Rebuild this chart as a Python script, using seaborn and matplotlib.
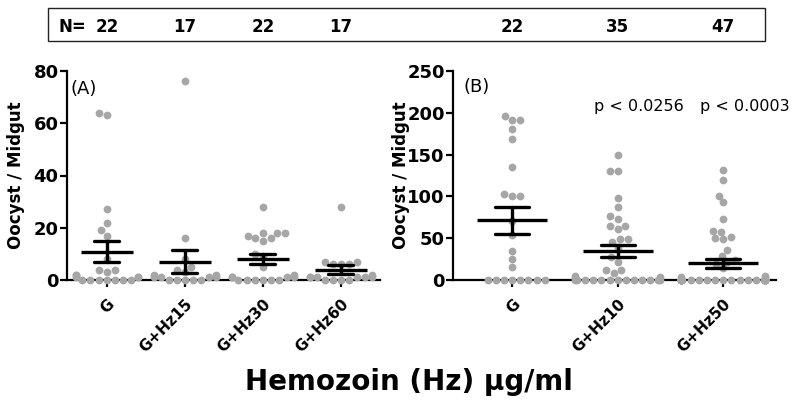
import matplotlib
matplotlib.use('Agg')
import pandas as pd
import seaborn as sns
import matplotlib.pyplot as plt
from matplotlib.patches import Rectangle
from matplotlib.transforms import blended_transform_factory

# Panel A: oocysts per midgut, gametocytes + Hz 15/30/60 ug/ml
groups_a = ['G', 'G+Hz15', 'G+Hz30', 'G+Hz60']
g_a = [64, 63, 27, 22, 19, 17, 8, 4, 4, 3, 2, 2, 1, 1, 1, 0, 0, 0, 0, 0, 0, 0]
hz15_a = [76, 16, 8, 5, 4, 3, 2, 2, 1, 1, 1, 1, 0, 0, 0, 0, 0]
hz30_a = [28, 18, 18, 18, 17, 16, 16, 15, 10, 9, 5, 2, 1, 1, 1, 1, 0, 0, 0, 0, 0, 0]
hz60_a = [28, 7, 7, 6, 6, 6, 2, 1, 1, 1, 1, 1, 1, 0, 0, 0, 0]

# Panel B: gametocytes + Hz 10/50 ug/ml
groups_b = ['G', 'G+Hz10', 'G+Hz50']
g_b = [196, 191, 191, 181, 169, 135, 103, 100, 100, 71, 54, 35, 25, 15,
       0, 0, 0, 0, 0, 0, 0, 0]
hz10_b = [150, 130, 130, 98, 87, 77, 73, 65, 64, 61, 49, 49, 45, 38, 27, 21,
          12, 12, 8, 5, 3, 2] + [0] * 13
hz50_b = [131, 120, 101, 93, 73, 59, 58, 51, 50, 49, 36, 29, 24, 22, 19, 14,
          5, 3, 2] + [0] * 28

pvals_b = ['', 'p < 0.0256', 'p < 0.0003']


def long_df(groups, series):
    rows = []
    for g, vals in zip(groups, series):
        rows += [(g, v) for v in vals]
    return pd.DataFrame(rows, columns=['group', 'oocysts'])


df_a = long_df(groups_a, [g_a, hz15_a, hz30_a, hz60_a])
df_b = long_df(groups_b, [g_b, hz10_b, hz50_b])

sns.set_style('ticks')
plt.rcParams['font.family'] = ['DejaVu Sans']
plt.rcParams.update({'text.color': 'black', 'axes.labelcolor': 'black',
                     'xtick.color': 'black', 'ytick.color': 'black',
                     'axes.edgecolor': 'black'})

fig = plt.figure(figsize=(8, 4.04), dpi=100)
ax_a = fig.add_axes([67 / 800, 124 / 404, 313 / 800, 209 / 404])
ax_b = fig.add_axes([453 / 800, 124 / 404, 323 / 800, 209 / 404])

gray = '#a6a6a6'
panels = [
    (ax_a, df_a, groups_a, (0, 80), [0, 20, 40, 60, 80], (-0.51, 3.5), 37, '(A)', (0.054, 0.914)),
    (ax_b, df_b, groups_b, (0, 250), [0, 50, 100, 150, 200, 250], (-0.56, 2.5), 50, '(B)', (0.074, 0.923)),
]

for ax, df, groups, ylim, yticks, xlim, msize, tag, tagpos in panels:
    sns.swarmplot(data=df, x='group', y='oocysts', order=groups, color=gray,
                  size=5.6, ax=ax, warn_thresh=1)
    for coll in ax.collections:
        coll.set_clip_on(False)
        coll.set_zorder(3)
    n_lines = len(ax.lines)
    sns.pointplot(data=df, x='group', y='oocysts', order=groups, errorbar='se',
                  capsize=0.32, color='black', marker='_', markersize=msize,
                  markeredgewidth=2.4, linestyle='none',
                  err_kws={'linewidth': 2.4}, ax=ax)
    for ln in ax.lines[n_lines:]:
        ln.set_zorder(4)
        ln.set_clip_on(False)

    ax.set_xlim(*xlim)
    ax.set_ylim(*ylim)
    ax.set_yticks(yticks)
    ax.set_xticks(range(len(groups)))
    ax.set_xticklabels(groups, rotation=45, ha='right', rotation_mode='anchor',
                       fontweight='bold', fontsize=11)
    for lbl in ax.get_yticklabels():
        lbl.set_fontweight('bold')
        lbl.set_fontsize(13)
    ax.tick_params(axis='y', length=5, width=1.6, pad=1)
    ax.tick_params(axis='x', length=5, width=1.6, pad=7)
    for side in ['top', 'right']:
        ax.spines[side].set_visible(False)
    for side in ['left', 'bottom']:
        ax.spines[side].set_linewidth(1.6)
        ax.spines[side].set_zorder(2.5)
    ax.set_xlabel('')
    ax.set_ylabel('Oocyst / Midgut', fontsize=12, fontweight='bold')
    ax.yaxis.set_label_coords(-0.134, 0.5)
    ax.text(tagpos[0], tagpos[1], tag, transform=ax.transAxes, ha='center',
            va='center', fontsize=13)

    # sample sizes in the box above
    trans = blended_transform_factory(ax.transData, fig.transFigure)
    for i, g in enumerate(groups):
        n = int((df['group'] == g).sum())
        fig.text(i, (404 - 32) / 404, str(n), transform=trans, ha='center',
                 va='baseline', fontsize=12, fontweight='bold')

for i, p in enumerate(pvals_b):
    if p:
        ax_b.text(i + 0.2, 208, p, ha='center', va='center', fontsize=11.5)

fig.add_artist(Rectangle((48 / 800, (404 - 41) / 404), 717 / 800, 33 / 404,
                         transform=fig.transFigure, fill=False,
                         edgecolor='#222222', linewidth=1))
fig.text(59 / 800, (404 - 32) / 404, 'N=', ha='left', va='baseline',
         fontsize=12, fontweight='bold')

fig.text(409 / 800, 14 / 404, 'Hemozoin (Hz) \u03bcg/ml', ha='center',
         va='baseline', fontsize=20, fontweight='bold')

fig.savefig('out.png', dpi=100)
